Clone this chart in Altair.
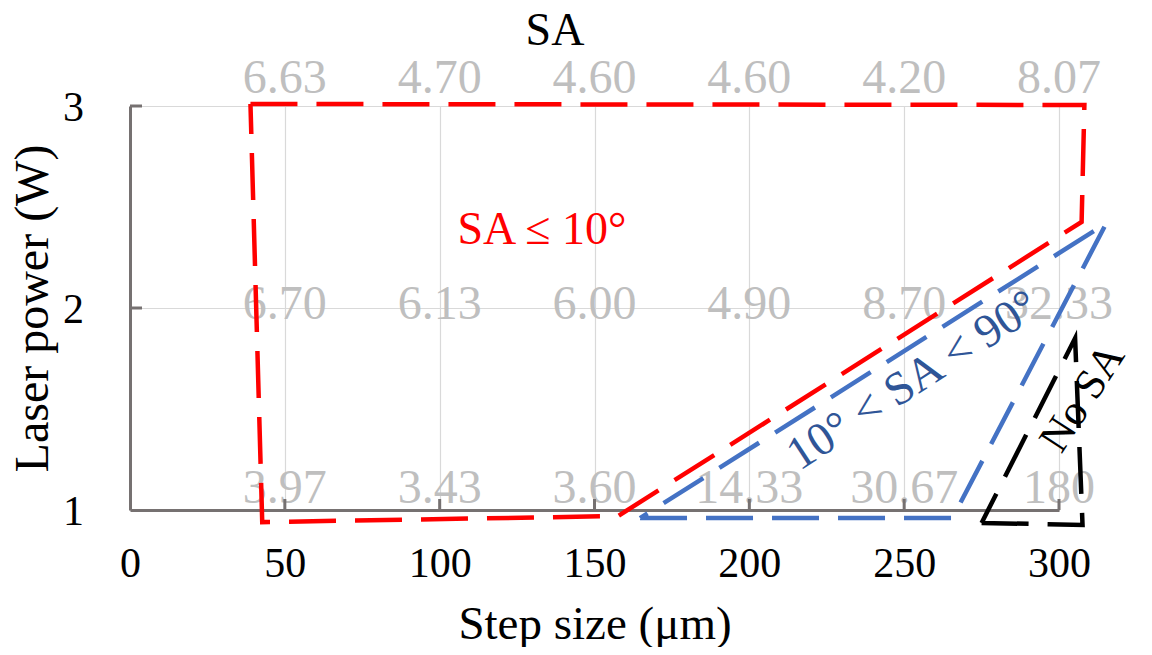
import altair as alt
import pandas as pd

FONT = "Liberation Serif"

# ---- data ----
x_ticks = [0, 50, 100, 150, 200, 250, 300]
y_ticks = [1, 2, 3]
step = [50, 100, 150, 200, 250, 300]
sa_p3 = ["6.63", "4.70", "4.60", "4.60", "4.20", "8.07"]
sa_p2 = ["6.70", "6.13", "6.00", "4.90", "8.70", "32.33"]
sa_p1 = ["3.97", "3.43", "3.60", "14.33", "30.67", "180"]
power_levels = [3, 2, 1]

red_x = [38.9, 308.2, 307.3, 157.6, 42.7, 38.9]
red_y = [3.01, 3.005, 2.426, 0.970, 0.94, 3.01]
blue_x = [164.7, 265.6, 315.3, 164.7]
blue_y = [0.96, 0.96, 2.42, 0.96]
black_x = [275.0, 307.6, 305.2, 275.0]
black_y = [0.936, 0.926, 1.85, 0.936]

ann_text = ["SA ≤ 10°", "10° < SA < 90°", "No SA"]
ann_x = [133.0, 252.9, 307.6]
ann_y = [2.386, 1.640, 1.554]

W, H = 929, 404

xscale = alt.Scale(domain=[0, 300], nice=False, zero=False)
yscale = alt.Scale(domain=[1, 3], nice=False, zero=False)

xaxis = alt.Axis(values=x_ticks, title="Step size (μm)", grid=True, gridColor="#D9D9D9",
                 gridWidth=1.2, domainColor="#767171", domainWidth=3, ticks=False,
                 labelFont=FONT, labelFontSize=42, labelColor="black", labelPadding=33,
                 labelFlush=False, labelOverlap=False, format="d",
                 titleFont=FONT, titleFontSize=47, titleFontWeight="normal",
                 titleColor="black", titlePadding=17)
yaxis = alt.Axis(values=y_ticks, title="Laser power (W)", grid=True, gridColor="#D9D9D9",
                 gridWidth=1.2, domainColor="#767171", domainWidth=3, ticks=False,
                 labels=False,
                 titleFont=FONT, titleFontSize=48, titleFontWeight="normal",
                 titleColor="black", titlePadding=73)

X = alt.X("x:Q", scale=xscale, axis=xaxis)
Y = alt.Y("y:Q", scale=yscale, axis=yaxis)

# polygons
rows = []
for name, xs, ys in [("red", red_x, red_y), ("blue", blue_x, blue_y), ("black", black_x, black_y)]:
    for i, (a, b) in enumerate(zip(xs, ys)):
        rows.append({"x": a, "y": b, "region": name, "idx": i})
poly_df = pd.DataFrame(rows)

lines = alt.Chart(poly_df).mark_line(strokeDash=[47, 19], strokeWidth=4.5).encode(
    x=X, y=Y,
    color=alt.Color("region:N", scale=alt.Scale(domain=["red", "blue", "black"],
                                                range=["#FF0000", "#4472C4", "#000000"]),
                    legend=None),
    detail="region:N",
    order=alt.Order("idx:Q"),
)

# gray SA value labels
label_layers = []
for p, vals, dy in zip(power_levels, [sa_p3, sa_p2, sa_p1], [-27, -3, -21]):
    df = pd.DataFrame({"x": step, "y": [p] * len(step), "label": vals})
    label_layers.append(
        alt.Chart(df).mark_text(font=FONT, fontSize=48, color="#BFBFBF", dy=dy,
                                baseline="middle", align="center").encode(
            x=X, y=Y, text="label:N")
    )

# y tick labels
ylab = alt.Chart(pd.DataFrame({"y": y_ticks, "label": [str(v) for v in y_ticks]})).mark_text(
    font=FONT, fontSize=42, color="black", align="right", baseline="middle", dy=2).encode(
    y=Y, x=alt.value(-46), text="label:N")

# inward ticks
xt = alt.Chart(pd.DataFrame({"x": step})).mark_rule(color="#767171", strokeWidth=3).encode(
    x=X, y=alt.value(H), y2=alt.value(H - 11))
yt = alt.Chart(pd.DataFrame({"y": [2, 3]})).mark_rule(color="#767171", strokeWidth=3).encode(
    y=Y, x=alt.value(0), x2=alt.value(12))

# annotations
ann_specs = [("#FF0000", 46, 0), ("#2F5597", 47, 327), ("#000000", 43, 303)]
ann_layers = []
for t, ax, ay, (col, fs, ang) in zip(ann_text, ann_x, ann_y, ann_specs):
    df = pd.DataFrame({"x": [ax], "y": [ay], "label": [t]})
    kw = dict(font=FONT, fontSize=fs, color=col, align="center", baseline="middle")
    if ang:
        kw["angle"] = ang
    ann_layers.append(alt.Chart(df).mark_text(**kw).encode(x=X, y=Y, text="label:N"))

# top title "SA"
top_title = alt.Chart(pd.DataFrame({"label": ["SA"]})).mark_text(
    font=FONT, fontSize=46, color="black", align="center", baseline="alphabetic").encode(
    x=alt.value(425), y=alt.value(-61), text="label:N")

chart = alt.layer(*label_layers, ylab, xt, yt, lines, *ann_layers, top_title).properties(
    width=W, height=H,
    autosize=alt.AutoSizeParams(type="none"),
    padding={"left": 122, "top": 98, "right": 85, "bottom": 137},
).configure_view(stroke=None).configure(background="white")

chart.save("out.html", embed_options={"renderer": "svg", "actions": False})
